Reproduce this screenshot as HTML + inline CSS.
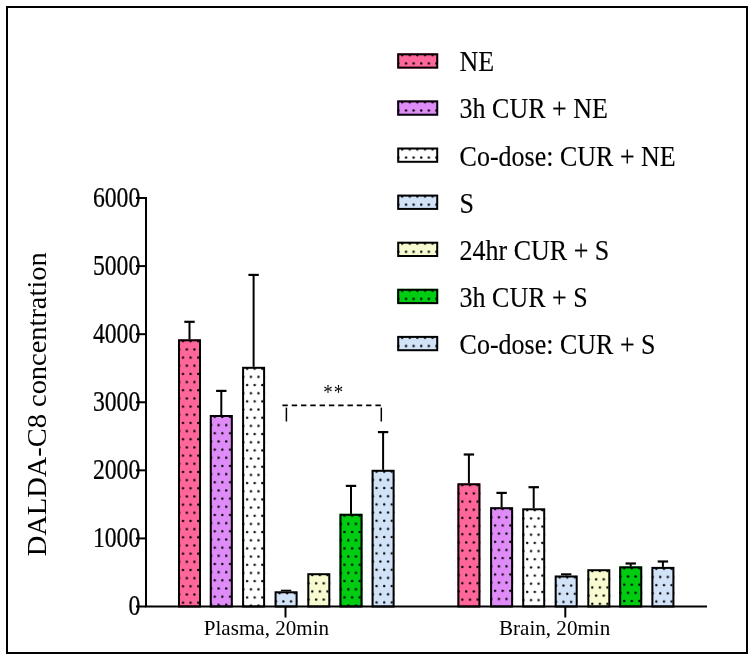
<!DOCTYPE html>
<html><head><meta charset="utf-8"><style>
html,body{margin:0;padding:0;background:#fff;width:754px;height:660px;overflow:hidden;}
svg{display:block;will-change:transform;}
</style></head><body>
<svg width="754" height="660" viewBox="0 0 754 660">
<defs><pattern id="p1" patternUnits="userSpaceOnUse" x="178" y="339.3" width="7.6" height="16.34"><circle cx="5.0" cy="2" r="1.2" fill="#000"/><circle cx="1.2" cy="10.17" r="1.2" fill="#000"/></pattern><pattern id="p2" patternUnits="userSpaceOnUse" x="209.8" y="415" width="7.6" height="16.34"><circle cx="5.0" cy="2" r="1.2" fill="#000"/><circle cx="1.2" cy="10.17" r="1.2" fill="#000"/></pattern><pattern id="p3" patternUnits="userSpaceOnUse" x="242.1" y="366.8" width="7.6" height="16.34"><circle cx="5.0" cy="2" r="1.2" fill="#000"/><circle cx="1.2" cy="10.17" r="1.2" fill="#000"/></pattern><pattern id="p4" patternUnits="userSpaceOnUse" x="274.6" y="591.3" width="7.6" height="16.34"><circle cx="5.0" cy="2" r="1.2" fill="#000"/><circle cx="1.2" cy="10.17" r="1.2" fill="#000"/></pattern><pattern id="p5" patternUnits="userSpaceOnUse" x="307.3" y="573.2" width="7.6" height="16.34"><circle cx="5.0" cy="2" r="1.2" fill="#000"/><circle cx="1.2" cy="10.17" r="1.2" fill="#000"/></pattern><pattern id="p6" patternUnits="userSpaceOnUse" x="339.5" y="513.8" width="7.6" height="16.34"><circle cx="5.0" cy="2" r="1.2" fill="#000"/><circle cx="1.2" cy="10.17" r="1.2" fill="#000"/></pattern><pattern id="p7" patternUnits="userSpaceOnUse" x="371.6" y="469.8" width="7.6" height="16.34"><circle cx="5.0" cy="2" r="1.2" fill="#000"/><circle cx="1.2" cy="10.17" r="1.2" fill="#000"/></pattern><pattern id="p8" patternUnits="userSpaceOnUse" x="457.4" y="483.3" width="7.6" height="16.34"><circle cx="5.0" cy="2" r="1.2" fill="#000"/><circle cx="1.2" cy="10.17" r="1.2" fill="#000"/></pattern><pattern id="p9" patternUnits="userSpaceOnUse" x="490.1" y="507.2" width="7.6" height="16.34"><circle cx="5.0" cy="2" r="1.2" fill="#000"/><circle cx="1.2" cy="10.17" r="1.2" fill="#000"/></pattern><pattern id="p10" patternUnits="userSpaceOnUse" x="522.2" y="508.3" width="7.6" height="16.34"><circle cx="5.0" cy="2" r="1.2" fill="#000"/><circle cx="1.2" cy="10.17" r="1.2" fill="#000"/></pattern><pattern id="p11" patternUnits="userSpaceOnUse" x="554.7" y="575.5" width="7.6" height="16.34"><circle cx="5.0" cy="2" r="1.2" fill="#000"/><circle cx="1.2" cy="10.17" r="1.2" fill="#000"/></pattern><pattern id="p12" patternUnits="userSpaceOnUse" x="587.3" y="569.2" width="7.6" height="16.34"><circle cx="5.0" cy="2" r="1.2" fill="#000"/><circle cx="1.2" cy="10.17" r="1.2" fill="#000"/></pattern><pattern id="p13" patternUnits="userSpaceOnUse" x="619.2" y="566.4" width="7.6" height="16.34"><circle cx="5.0" cy="2" r="1.2" fill="#000"/><circle cx="1.2" cy="10.17" r="1.2" fill="#000"/></pattern><pattern id="p14" patternUnits="userSpaceOnUse" x="651.4" y="566.9" width="7.6" height="16.34"><circle cx="5.0" cy="2" r="1.2" fill="#000"/><circle cx="1.2" cy="10.17" r="1.2" fill="#000"/></pattern><pattern id="p15" patternUnits="userSpaceOnUse" x="397.2" y="53.3" width="7.6" height="16.34"><circle cx="5.0" cy="2" r="1.2" fill="#000"/><circle cx="1.2" cy="10.17" r="1.2" fill="#000"/></pattern><pattern id="p16" patternUnits="userSpaceOnUse" x="397.2" y="100.4" width="7.6" height="16.34"><circle cx="5.0" cy="2" r="1.2" fill="#000"/><circle cx="1.2" cy="10.17" r="1.2" fill="#000"/></pattern><pattern id="p17" patternUnits="userSpaceOnUse" x="397.2" y="147.5" width="7.6" height="16.34"><circle cx="5.0" cy="2" r="1.2" fill="#000"/><circle cx="1.2" cy="10.17" r="1.2" fill="#000"/></pattern><pattern id="p18" patternUnits="userSpaceOnUse" x="397.2" y="194.6" width="7.6" height="16.34"><circle cx="5.0" cy="2" r="1.2" fill="#000"/><circle cx="1.2" cy="10.17" r="1.2" fill="#000"/></pattern><pattern id="p19" patternUnits="userSpaceOnUse" x="397.2" y="241.7" width="7.6" height="16.34"><circle cx="5.0" cy="2" r="1.2" fill="#000"/><circle cx="1.2" cy="10.17" r="1.2" fill="#000"/></pattern><pattern id="p20" patternUnits="userSpaceOnUse" x="397.2" y="288.8" width="7.6" height="16.34"><circle cx="5.0" cy="2" r="1.2" fill="#000"/><circle cx="1.2" cy="10.17" r="1.2" fill="#000"/></pattern><pattern id="p21" patternUnits="userSpaceOnUse" x="397.2" y="335.9" width="7.6" height="16.34"><circle cx="5.0" cy="2" r="1.2" fill="#000"/><circle cx="1.2" cy="10.17" r="1.2" fill="#000"/></pattern></defs>
<rect width="754" height="660" fill="#fff"/>
<rect x="7" y="7" width="740" height="646" fill="none" stroke="#000" stroke-width="2"/>
<line x1="189.5" y1="340.3" x2="189.5" y2="321.8" stroke="#000" stroke-width="2"/><line x1="184.3" y1="321.8" x2="194.7" y2="321.8" stroke="#000" stroke-width="2.2"/>
<rect x="178" y="339.3" width="23" height="267.2" fill="#FF6699"/><rect x="178" y="339.3" width="23" height="267.2" fill="url(#p1)"/><rect x="179" y="340.3" width="21" height="266.2" fill="none" stroke="#000" stroke-width="2"/>
<line x1="221.3" y1="416" x2="221.3" y2="390.9" stroke="#000" stroke-width="2"/><line x1="216.1" y1="390.9" x2="226.5" y2="390.9" stroke="#000" stroke-width="2.2"/>
<rect x="209.8" y="415" width="23" height="191.5" fill="#DF8CF9"/><rect x="209.8" y="415" width="23" height="191.5" fill="url(#p2)"/><rect x="210.8" y="416" width="21" height="190.5" fill="none" stroke="#000" stroke-width="2"/>
<line x1="253.6" y1="367.8" x2="253.6" y2="274.9" stroke="#000" stroke-width="2"/><line x1="248.4" y1="274.9" x2="258.8" y2="274.9" stroke="#000" stroke-width="2.2"/>
<rect x="242.1" y="366.8" width="23" height="239.7" fill="#FFFFFF"/><rect x="242.1" y="366.8" width="23" height="239.7" fill="url(#p3)"/><rect x="243.1" y="367.8" width="21" height="238.7" fill="none" stroke="#000" stroke-width="2"/>
<line x1="286.1" y1="592.3" x2="286.1" y2="590.8" stroke="#000" stroke-width="2"/><line x1="280.9" y1="590.8" x2="291.3" y2="590.8" stroke="#000" stroke-width="2.2"/>
<rect x="274.6" y="591.3" width="23" height="15.2" fill="#D2E3F8"/><rect x="274.6" y="591.3" width="23" height="15.2" fill="url(#p4)"/><rect x="275.6" y="592.3" width="21" height="14.2" fill="none" stroke="#000" stroke-width="2"/>
<rect x="307.3" y="573.2" width="23" height="33.3" fill="#F7FBCF"/><rect x="307.3" y="573.2" width="23" height="33.3" fill="url(#p5)"/><rect x="308.3" y="574.2" width="21" height="32.3" fill="none" stroke="#000" stroke-width="2"/>
<line x1="351" y1="514.8" x2="351" y2="485.9" stroke="#000" stroke-width="2"/><line x1="345.8" y1="485.9" x2="356.2" y2="485.9" stroke="#000" stroke-width="2.2"/>
<rect x="339.5" y="513.8" width="23" height="92.7" fill="#00CC11"/><rect x="339.5" y="513.8" width="23" height="92.7" fill="url(#p6)"/><rect x="340.5" y="514.8" width="21" height="91.7" fill="none" stroke="#000" stroke-width="2"/>
<line x1="383.1" y1="470.8" x2="383.1" y2="432.1" stroke="#000" stroke-width="2"/><line x1="377.9" y1="432.1" x2="388.3" y2="432.1" stroke="#000" stroke-width="2.2"/>
<rect x="371.6" y="469.8" width="23" height="136.7" fill="#D2E3F8"/><rect x="371.6" y="469.8" width="23" height="136.7" fill="url(#p7)"/><rect x="372.6" y="470.8" width="21" height="135.7" fill="none" stroke="#000" stroke-width="2"/>
<line x1="468.9" y1="484.3" x2="468.9" y2="454.5" stroke="#000" stroke-width="2"/><line x1="463.7" y1="454.5" x2="474.1" y2="454.5" stroke="#000" stroke-width="2.2"/>
<rect x="457.4" y="483.3" width="23" height="123.2" fill="#FF6699"/><rect x="457.4" y="483.3" width="23" height="123.2" fill="url(#p8)"/><rect x="458.4" y="484.3" width="21" height="122.2" fill="none" stroke="#000" stroke-width="2"/>
<line x1="501.6" y1="508.2" x2="501.6" y2="492.9" stroke="#000" stroke-width="2"/><line x1="496.4" y1="492.9" x2="506.8" y2="492.9" stroke="#000" stroke-width="2.2"/>
<rect x="490.1" y="507.2" width="23" height="99.3" fill="#DF8CF9"/><rect x="490.1" y="507.2" width="23" height="99.3" fill="url(#p9)"/><rect x="491.1" y="508.2" width="21" height="98.3" fill="none" stroke="#000" stroke-width="2"/>
<line x1="533.7" y1="509.3" x2="533.7" y2="487.2" stroke="#000" stroke-width="2"/><line x1="528.5" y1="487.2" x2="538.9" y2="487.2" stroke="#000" stroke-width="2.2"/>
<rect x="522.2" y="508.3" width="23" height="98.2" fill="#FFFFFF"/><rect x="522.2" y="508.3" width="23" height="98.2" fill="url(#p10)"/><rect x="523.2" y="509.3" width="21" height="97.2" fill="none" stroke="#000" stroke-width="2"/>
<line x1="566.2" y1="576.5" x2="566.2" y2="574.4" stroke="#000" stroke-width="2"/><line x1="561" y1="574.4" x2="571.4" y2="574.4" stroke="#000" stroke-width="2.2"/>
<rect x="554.7" y="575.5" width="23" height="31" fill="#D2E3F8"/><rect x="554.7" y="575.5" width="23" height="31" fill="url(#p11)"/><rect x="555.7" y="576.5" width="21" height="30" fill="none" stroke="#000" stroke-width="2"/>
<rect x="587.3" y="569.2" width="23" height="37.3" fill="#F7FBCF"/><rect x="587.3" y="569.2" width="23" height="37.3" fill="url(#p12)"/><rect x="588.3" y="570.2" width="21" height="36.3" fill="none" stroke="#000" stroke-width="2"/>
<line x1="630.7" y1="567.4" x2="630.7" y2="563.5" stroke="#000" stroke-width="2"/><line x1="625.5" y1="563.5" x2="635.9" y2="563.5" stroke="#000" stroke-width="2.2"/>
<rect x="619.2" y="566.4" width="23" height="40.1" fill="#00CC11"/><rect x="619.2" y="566.4" width="23" height="40.1" fill="url(#p13)"/><rect x="620.2" y="567.4" width="21" height="39.1" fill="none" stroke="#000" stroke-width="2"/>
<line x1="662.9" y1="567.9" x2="662.9" y2="561.5" stroke="#000" stroke-width="2"/><line x1="657.7" y1="561.5" x2="668.1" y2="561.5" stroke="#000" stroke-width="2.2"/>
<rect x="651.4" y="566.9" width="23" height="39.6" fill="#D2E3F8"/><rect x="651.4" y="566.9" width="23" height="39.6" fill="url(#p14)"/><rect x="652.4" y="567.9" width="21" height="38.6" fill="none" stroke="#000" stroke-width="2"/>
<line x1="146" y1="197" x2="146" y2="606.5" stroke="#000" stroke-width="2"/>
<line x1="145" y1="606.5" x2="707" y2="606.5" stroke="#000" stroke-width="2"/>
<line x1="136" y1="606.5" x2="146" y2="606.5" stroke="#000" stroke-width="2"/>
<line x1="136" y1="538.42" x2="146" y2="538.42" stroke="#000" stroke-width="2"/>
<line x1="136" y1="470.34" x2="146" y2="470.34" stroke="#000" stroke-width="2"/>
<line x1="136" y1="402.26" x2="146" y2="402.26" stroke="#000" stroke-width="2"/>
<line x1="136" y1="334.18" x2="146" y2="334.18" stroke="#000" stroke-width="2"/>
<line x1="136" y1="266.1" x2="146" y2="266.1" stroke="#000" stroke-width="2"/>
<line x1="136" y1="198.02" x2="146" y2="198.02" stroke="#000" stroke-width="2"/>
<line x1="285.5" y1="606.5" x2="285.5" y2="617.5" stroke="#000" stroke-width="2"/>
<line x1="565.3" y1="606.5" x2="565.3" y2="617.5" stroke="#000" stroke-width="2"/>
<text transform="translate(140.3,615.1) scale(0.79,1)" font-size="30" text-anchor="end" font-family="Liberation Serif" fill="#000" stroke="#000" stroke-width="0.25">0</text>
<text transform="translate(140.3,547.02) scale(0.79,1)" font-size="30" text-anchor="end" font-family="Liberation Serif" fill="#000" stroke="#000" stroke-width="0.25">1000</text>
<text transform="translate(140.3,478.94) scale(0.79,1)" font-size="30" text-anchor="end" font-family="Liberation Serif" fill="#000" stroke="#000" stroke-width="0.25">2000</text>
<text transform="translate(140.3,410.86) scale(0.79,1)" font-size="30" text-anchor="end" font-family="Liberation Serif" fill="#000" stroke="#000" stroke-width="0.25">3000</text>
<text transform="translate(140.3,342.78) scale(0.79,1)" font-size="30" text-anchor="end" font-family="Liberation Serif" fill="#000" stroke="#000" stroke-width="0.25">4000</text>
<text transform="translate(140.3,274.7) scale(0.79,1)" font-size="30" text-anchor="end" font-family="Liberation Serif" fill="#000" stroke="#000" stroke-width="0.25">5000</text>
<text transform="translate(140.3,206.62) scale(0.79,1)" font-size="30" text-anchor="end" font-family="Liberation Serif" fill="#000" stroke="#000" stroke-width="0.25">6000</text>
<text transform="translate(203.8,635.1) scale(0.995,1)" font-size="21.2" text-anchor="start" font-family="Liberation Serif" fill="#000">Plasma, 20min</text>
<text transform="translate(499,635.1) scale(0.995,1)" font-size="21.2" text-anchor="start" font-family="Liberation Serif" fill="#000">Brain, 20min</text>
<text transform="translate(45.9,556.2) rotate(-90) scale(1.053,1)" font-size="27" font-family="Liberation Serif" fill="#000">DALDA-C8 concentration</text>
<line x1="282.4" y1="405.4" x2="381.3" y2="405.4" stroke="#000" stroke-width="1.6" stroke-dasharray="5.4,3.9"/>
<line x1="286.4" y1="407.6" x2="286.4" y2="421.5" stroke="#000" stroke-width="1.5"/>
<line x1="381.3" y1="407.6" x2="381.3" y2="421.5" stroke="#000" stroke-width="1.5"/>
<text transform="translate(327.9,399.3) scale(0.88,1)" font-size="21.5" text-anchor="middle" font-family="Liberation Serif" fill="#000">*</text>
<text transform="translate(338.6,399.3) scale(0.88,1)" font-size="21.5" text-anchor="middle" font-family="Liberation Serif" fill="#000">*</text>
<rect x="397.2" y="53.3" width="41" height="15.3" fill="#FF6699"/>
<rect x="397.2" y="53.3" width="41" height="15.3" fill="url(#p15)"/>
<rect x="398.2" y="54.3" width="39" height="13.3" fill="none" stroke="#000" stroke-width="2"/>
<text transform="translate(459.6,71.3) scale(0.906,1)" font-size="28.7" text-anchor="start" font-family="Liberation Serif" fill="#000" stroke="#000" stroke-width="0.15">NE</text>
<rect x="397.2" y="100.4" width="41" height="15.3" fill="#DF8CF9"/>
<rect x="397.2" y="100.4" width="41" height="15.3" fill="url(#p16)"/>
<rect x="398.2" y="101.4" width="39" height="13.3" fill="none" stroke="#000" stroke-width="2"/>
<text transform="translate(459.6,118.4) scale(0.906,1)" font-size="28.7" text-anchor="start" font-family="Liberation Serif" fill="#000" stroke="#000" stroke-width="0.15">3h CUR + NE</text>
<rect x="397.2" y="147.5" width="41" height="15.3" fill="#FFFFFF"/>
<rect x="397.2" y="147.5" width="41" height="15.3" fill="url(#p17)"/>
<rect x="398.2" y="148.5" width="39" height="13.3" fill="none" stroke="#000" stroke-width="2"/>
<text transform="translate(459.6,165.5) scale(0.906,1)" font-size="28.7" text-anchor="start" font-family="Liberation Serif" fill="#000" stroke="#000" stroke-width="0.15">Co-dose: CUR + NE</text>
<rect x="397.2" y="194.6" width="41" height="15.3" fill="#D2E3F8"/>
<rect x="397.2" y="194.6" width="41" height="15.3" fill="url(#p18)"/>
<rect x="398.2" y="195.6" width="39" height="13.3" fill="none" stroke="#000" stroke-width="2"/>
<text transform="translate(459.6,212.6) scale(0.906,1)" font-size="28.7" text-anchor="start" font-family="Liberation Serif" fill="#000" stroke="#000" stroke-width="0.15">S</text>
<rect x="397.2" y="241.7" width="41" height="15.3" fill="#F7FBCF"/>
<rect x="397.2" y="241.7" width="41" height="15.3" fill="url(#p19)"/>
<rect x="398.2" y="242.7" width="39" height="13.3" fill="none" stroke="#000" stroke-width="2"/>
<text transform="translate(459.6,259.7) scale(0.906,1)" font-size="28.7" text-anchor="start" font-family="Liberation Serif" fill="#000" stroke="#000" stroke-width="0.15">24hr CUR + S</text>
<rect x="397.2" y="288.8" width="41" height="15.3" fill="#00CC11"/>
<rect x="397.2" y="288.8" width="41" height="15.3" fill="url(#p20)"/>
<rect x="398.2" y="289.8" width="39" height="13.3" fill="none" stroke="#000" stroke-width="2"/>
<text transform="translate(459.6,306.8) scale(0.906,1)" font-size="28.7" text-anchor="start" font-family="Liberation Serif" fill="#000" stroke="#000" stroke-width="0.15">3h CUR + S</text>
<rect x="397.2" y="335.9" width="41" height="15.3" fill="#D2E3F8"/>
<rect x="397.2" y="335.9" width="41" height="15.3" fill="url(#p21)"/>
<rect x="398.2" y="336.9" width="39" height="13.3" fill="none" stroke="#000" stroke-width="2"/>
<text transform="translate(459.6,353.9) scale(0.906,1)" font-size="28.7" text-anchor="start" font-family="Liberation Serif" fill="#000" stroke="#000" stroke-width="0.15">Co-dose: CUR + S</text>
</svg>
</body></html>
